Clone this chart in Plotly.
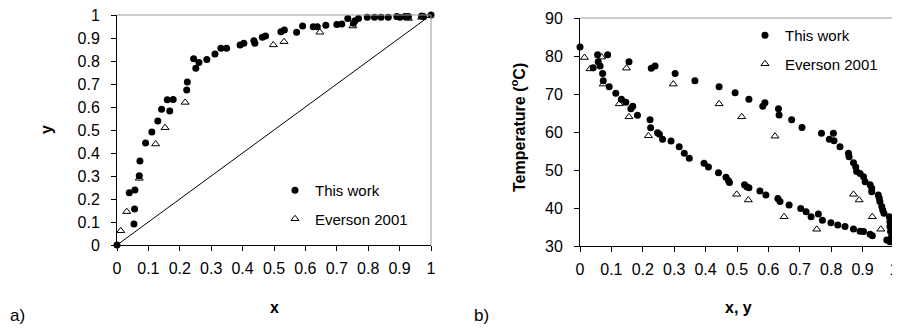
import plotly.graph_objects as go

# ---------------- data: panel a) y vs x ----------------
a_this_x = [0.0, 0.039, 0.054, 0.056, 0.057, 0.071, 0.073, 0.091, 0.111, 0.130, 0.142, 0.160, 0.168,
            0.179, 0.222, 0.224, 0.244, 0.251, 0.261, 0.286, 0.312, 0.331, 0.349, 0.392, 0.404,
            0.436, 0.439, 0.463, 0.473, 0.522, 0.533, 0.572, 0.591, 0.625, 0.638, 0.665, 0.700,
            0.716, 0.735, 0.753, 0.758, 0.769, 0.797, 0.820, 0.841, 0.864, 0.891, 0.901, 0.917,
            0.928, 0.970, 0.976, 1.0]
a_this_y = [0.0, 0.227, 0.091, 0.156, 0.239, 0.301, 0.365, 0.443, 0.491, 0.539, 0.590, 0.632, 0.583,
            0.633, 0.674, 0.709, 0.810, 0.768, 0.794, 0.807, 0.830, 0.855, 0.855, 0.870, 0.877,
            0.888, 0.877, 0.903, 0.909, 0.927, 0.935, 0.925, 0.952, 0.949, 0.949, 0.955, 0.959,
            0.961, 0.985, 0.964, 0.975, 0.985, 0.990, 0.990, 0.990, 0.990, 0.993, 0.990, 0.993,
            0.993, 0.996, 0.993, 1.0]
a_ev_x = [0.012, 0.031, 0.071, 0.123, 0.153, 0.217, 0.498, 0.532, 0.646, 0.751, 0.928, 0.970]
a_ev_y = [0.062, 0.145, 0.290, 0.439, 0.510, 0.620, 0.870, 0.884, 0.925, 0.952, 0.985, 0.990]
diag = [0, 1]

# ---------------- data: panel b) T vs x, y ----------------
b_this_x = [0.0, 0.042, 0.056, 0.058, 0.064, 0.072, 0.074, 0.088, 0.093, 0.114, 0.132, 0.146, 0.156,
            0.162, 0.168, 0.183, 0.223, 0.225, 0.227, 0.239, 0.247, 0.253, 0.263, 0.290, 0.303,
            0.316, 0.332, 0.348, 0.366, 0.395, 0.409, 0.443, 0.441, 0.465, 0.473, 0.476, 0.494,
            0.524, 0.531, 0.538, 0.538, 0.573, 0.582, 0.589, 0.592, 0.630, 0.632, 0.634, 0.637,
            0.666, 0.674, 0.703, 0.707, 0.720, 0.736, 0.759, 0.769, 0.772, 0.794, 0.799, 0.807,
            0.809, 0.821, 0.828, 0.844, 0.855, 0.857, 0.871, 0.871, 0.878, 0.881, 0.892, 0.892,
            0.903, 0.903, 0.908, 0.924, 0.924, 0.929, 0.929, 0.931, 0.950, 0.953, 0.955, 0.961,
            0.964, 0.968, 0.977, 0.985, 0.987, 0.987, 0.987, 0.989, 0.992, 0.998, 1.0]
b_this_T = [82.4, 76.9, 80.3, 78.5, 77.4, 75.4, 73.5, 80.3, 71.9, 70.2, 68.6, 67.8, 78.5,
            66.1, 66.8, 64.4, 63.2, 61.1, 76.8, 77.4, 59.8, 59.4, 58.1, 57.6, 75.4,
            56.1, 54.4, 53.1, 73.5, 51.8, 50.8, 71.9, 49.3, 48.1, 47.2, 46.7, 70.3,
            46.1, 45.6, 45.3, 68.6, 44.5, 66.8, 67.7, 43.4, 42.5, 66.1, 64.5, 41.7,
            40.8, 63.2, 39.9, 61.2, 39.0, 37.7, 38.4, 59.7, 36.8, 58.1, 36.1, 59.7,
            57.7, 35.5, 56.1, 35.1, 54.4, 53.5, 51.9, 34.5, 50.8, 49.6, 49.1, 33.9,
            48.2, 33.8, 46.9, 46.1, 33.1, 45.2, 44.3, 32.7, 43.4, 42.6, 41.7, 40.4,
            39.5, 38.6, 31.6, 37.7, 36.4, 35.1, 31.1, 33.8, 32.4, 31.3, 30.9]
b_ev_x = [0.014, 0.032, 0.069, 0.074, 0.125, 0.148, 0.156, 0.218, 0.297, 0.443, 0.499, 0.515,
          0.536, 0.621, 0.650, 0.754, 0.871, 0.889, 0.931, 0.958]
b_ev_T = [79.6, 76.6, 79.7, 72.6, 67.4, 76.8, 64.0, 59.0, 72.6, 67.4, 43.6, 64.0,
          42.1, 58.9, 37.7, 34.4, 43.6, 42.1, 37.7, 34.4]

# tick labels
frac_ticks = [i / 10 for i in range(11)]
frac_text = ["0", "0.1", "0.2", "0.3", "0.4", "0.5", "0.6", "0.7", "0.8", "0.9", "1"]
temp_ticks = [30, 40, 50, 60, 70, 80, 90]
temp_text = [str(t) for t in temp_ticks]

FONT = "Liberation Sans, Arial, sans-serif"
dot = dict(symbol="circle", size=7, color="black")
tri = dict(symbol="triangle-up-open", size=7, color="black", line=dict(width=1, color="black"))

fig = go.Figure()
fig.add_trace(go.Scatter(x=diag, y=diag, mode="lines", line=dict(color="black", width=1),
                         showlegend=False, xaxis="x", yaxis="y", hoverinfo="skip"))
fig.add_trace(go.Scatter(x=a_this_x, y=a_this_y, mode="markers", marker=dot, name="This work",
                         xaxis="x", yaxis="y", legend="legend", legendgroup="a1", cliponaxis=False))
fig.add_trace(go.Scatter(x=a_ev_x, y=a_ev_y, mode="markers", marker=tri, name="Everson 2001",
                         xaxis="x", yaxis="y", legend="legend", legendgroup="a2", cliponaxis=False))
fig.add_trace(go.Scatter(x=b_this_x, y=b_this_T, mode="markers", marker=dot, name="This work",
                         xaxis="x2", yaxis="y2", legend="legend2", legendgroup="b1", cliponaxis=False))
fig.add_trace(go.Scatter(x=b_ev_x, y=b_ev_T, mode="markers", marker=tri, name="Everson 2001",
                         xaxis="x2", yaxis="y2", legend="legend2", legendgroup="b2", cliponaxis=False))

# page body has an 8px margin: the figure is sized to fill the rest of the window
OFF = 8
W, H = 900 - OFF, 334 - OFF


def fx(px):
    return (px - OFF) / W


def fy(py):
    return (H - (py - OFF)) / H


axcommon = dict(showline=True, linecolor="black", linewidth=1, ticks="outside", ticklen=5,
                tickcolor="black", tickwidth=1, showgrid=False, zeroline=False, automargin=False,
                ticklabeloverflow="allow",
                tickfont=dict(family=FONT, size=16, color="black"))

fig.update_layout(
    width=W, height=H, margin=dict(l=0, r=0, t=0, b=0, autoexpand=False),
    paper_bgcolor="white", plot_bgcolor="white",
    font=dict(family=FONT, color="black"),
    xaxis=dict(domain=[fx(117), fx(431)], range=[0, 1], anchor="y", tickvals=frac_ticks,
               ticktext=frac_text, ticklabelstandoff=4, **axcommon),
    yaxis=dict(domain=[fy(245), fy(15)], range=[0, 1], anchor="x", tickvals=frac_ticks,
               ticktext=frac_text, ticklabelstandoff=8, **axcommon),
    xaxis2=dict(domain=[fx(580), fx(894)], range=[0, 1], anchor="y2", tickvals=frac_ticks,
                ticktext=frac_text, ticklabelstandoff=4, **axcommon),
    yaxis2=dict(domain=[fy(246), fy(18)], range=[30, 90], anchor="x2", tickvals=temp_ticks,
                ticktext=temp_text, ticklabelstandoff=8, **axcommon),
    legend=dict(x=fx(275), y=fy(174), xanchor="left", yanchor="top", bgcolor="rgba(0,0,0,0)",
                font=dict(family=FONT, size=15, color="black"), tracegroupgap=6),
    legend2=dict(x=fx(745), y=fy(19), xanchor="left", yanchor="top", bgcolor="rgba(0,0,0,0)",
                 font=dict(family=FONT, size=15, color="black"), tracegroupgap=6),
)

# gray top/right frame
for xr, yr in (("x domain", "y domain"), ("x2 domain", "y2 domain")):
    fig.add_shape(type="line", xref=xr, yref=yr, x0=0, x1=1, y0=1, y1=1,
                  line=dict(color="#9a9a9a", width=1))
    fig.add_shape(type="line", xref=xr, yref=yr, x0=1, x1=1, y0=0, y1=1,
                  line=dict(color="#9a9a9a", width=1))

title_font = dict(family=FONT, size=16, color="black")
ann = [
    dict(text="<b>y</b>", x=fx(47), y=fy(130), textangle=-90),
    dict(text="<b>x</b>", x=fx(274), y=fy(307), textangle=0),
    dict(text="<b>Temperature (<sup>o</sup>C)</b>", x=fx(518), y=fy(128), textangle=-90),
    dict(text="<b>x, y</b>", x=fx(738), y=fy(307), textangle=0),
]
for a in ann:
    fig.add_annotation(xref="paper", yref="paper", showarrow=False, font=title_font,
                       xanchor="center", yanchor="middle", **a)
for txt, xl in (("a)", 8), ("b)", 472)):
    fig.add_annotation(xref="paper", yref="paper", showarrow=False, text=txt,
                       font=dict(family=FONT, size=17, color="black"),
                       x=fx(xl), y=fy(315), xanchor="left", yanchor="middle")

fig.write_html("out.html")
